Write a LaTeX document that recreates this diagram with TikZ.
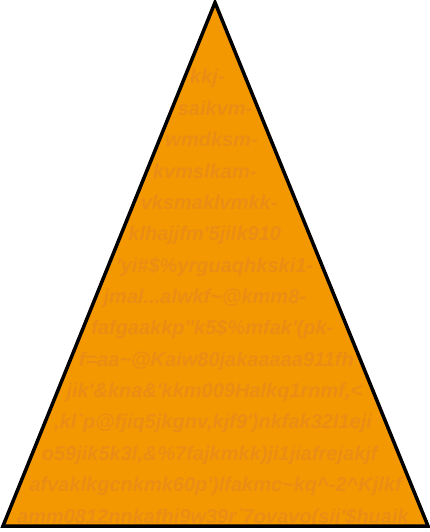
\documentclass[tikz,border=0pt]{standalone}
\usepackage{fontspec}
\newfontfamily\pyrfont{Liberation Sans}
\definecolor{pyrfill}{HTML}{F39800}
\definecolor{pyrink}{HTML}{EA8D15}
\tikzset{pyrline/.style={anchor=base west, inner sep=0pt, text=pyrink, font=\pyrfont\bfseries\itshape\fontsize{20}{22}\selectfont}}
\begin{document}
\begin{tikzpicture}[x=1pt, y=-1pt, line join=miter]
	\useasboundingbox (0,0) rectangle (430,532);
	\coordinate (apex) at (215,2.5);
	\coordinate (bl) at (3,526);
	\coordinate (br) at (428,526);
	\fill[pyrfill] (apex) -- (br) -- (bl) -- cycle;
	\foreach \i/\txt in {1/{kkj-}, 2/{saikvm-}, 3/{wmdksm-}, 4/{kvmslkam-}, 5/{vksmaklvmkk-}, 6/{klhajjfm'5jilk910}, 7/{'yi\#\$\%yrguaqhkski1-}, 8/{jmal...alwkf\textasciitilde@kmm8-}, 9/{fafgaakkp''k5\$\%mfak'(pk-}, 10/{f=aa\textasciitilde@Kaiw80jakaaaaa911fh}, 11/{jik'\&kna\&'kkm009Halkq1rnmf,<}, 12/{,kl\textasciigrave p@fjiq5jkgnv,kjf9')nkfak32l1eji}, 13/{o59jik5k3l,\&\%7fajkmkk)ji1jiafrejakjf}, 14/{afvaklkgcnkmk60p')lfakmc\textasciitilde kq\textasciicircum-2\textasciicircum Kjlkf}, 15/{amm0812nnkafhi9w39r\textasciigrave 7ovavo(sij'\$huaik}}
	\node[pyrline] (l\i) at ({190-12.36*(\i-1)}, {84+31.36*(\i-1)}) {\txt};
	\draw[line width=3.5pt] (apex) -- (br) -- (bl) -- cycle;
\end{tikzpicture}
\end{document}
